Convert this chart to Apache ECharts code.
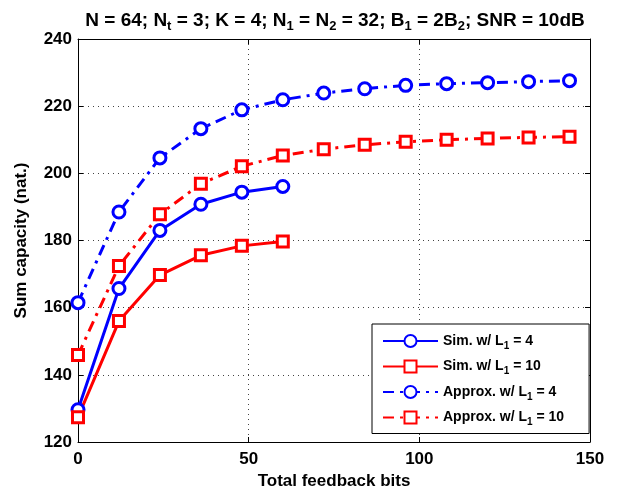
<!DOCTYPE html>
<html>
<head>
<meta charset="utf-8">
<script src="https://cdn.jsdelivr.net/npm/echarts@6/dist/echarts.min.js"></script>
<style>
  html, body { margin: 0; padding: 0; background: #fff; }
  #chart { width: 626px; height: 495px; }
</style>
</head>
<body>
<div id="chart"></div>
<script>
// feedback bits on the x axis
const bits = [0, 12, 24, 36, 48, 60, 72, 84, 96, 108, 120, 132, 144];
// simulated sum capacity, only up to 60 bits
const simL4 = [129.6, 165.7, 183.0, 190.8, 194.4, 196.1];
const simL10 = [127.4, 156.0, 169.7, 175.6, 178.4, 179.7];
// approximation curves
const approxL4 = [161.5, 188.5, 204.6, 213.3, 218.9, 221.9, 223.9, 225.2, 226.2, 226.7, 227.0, 227.3, 227.6];
const approxL10 = [145.9, 172.4, 187.8, 196.9, 202.1, 205.3, 207.2, 208.5, 209.4, 210.0, 210.4, 210.7, 210.9];
const xTicks = { min: 0, max: 150, step: 50 };
const yTicks = { min: 120, max: 240, step: 20 };

const pairs = (ys) => ys.map((v, i) => [bits[i], v]);

const font = "Liberation Sans";
const dashDot = [11, 6, 3, 6];

const myChart = echarts.init(document.getElementById("chart"));

const tickLabel = { color: "#000", fontFamily: font, fontWeight: "bold", fontSize: 17 };
const nameStyle = { color: "#000", fontFamily: font, fontWeight: "bold", fontSize: 17 };
const grid = {
  show: true,
  lineStyle: { color: "#444", type: [1, 4], width: 1 },
};
const frameLine = { show: true, onZero: false, lineStyle: { color: "#000", width: 1 } };
const frameTick = { show: true, inside: true, length: 5, lineStyle: { color: "#000" } };

const option = {
  backgroundColor: "#fff",
  animation: false,
  title: {
    text: "N = 64; N{s|t} = 3; K = 4; N{s|1} = N{s|2} = 32; B{s|1} = 2B{s|2}; SNR = 10dB",
    left: 330,
    textAlign: "center",
    top: 3,
    textStyle: {
      color: "#000",
      fontFamily: font,
      fontWeight: "bold",
      fontSize: 19,
      rich: {
        s: { fontFamily: font, fontWeight: "bold", fontSize: 13, padding: [12, 0, 0, 0], verticalAlign: "bottom" },
      },
    },
  },
  grid: { left: 78, right: 36, top: 39, bottom: 52 },
  legend: {
    orient: "vertical",
    left: 372,
    top: 324,
    padding: [10, 25, 6, 10],
    itemGap: 8.5,
    itemWidth: 55,
    itemHeight: 15,
    borderColor: "#000",
    borderWidth: 1,
    backgroundColor: "#fff",
    formatter: (name) => name.replace("L1", "L{s|1}"),
    textStyle: {
      color: "#000",
      fontFamily: font,
      fontWeight: "bold",
      fontSize: 14,
      rich: {
        s: { fontFamily: font, fontWeight: "bold", fontSize: 10, padding: [10, 0, 0, 0], verticalAlign: "bottom" },
      },
    },
  },
  xAxis: [
    {
      type: "value",
      min: xTicks.min,
      max: xTicks.max,
      interval: xTicks.step,
      name: "Total feedback bits",
      nameLocation: "middle",
      nameGap: 31,
      nameTextStyle: nameStyle,
      axisLine: frameLine,
      axisTick: frameTick,
      axisLabel: Object.assign({ margin: 9 }, tickLabel),
      splitLine: grid,
    },
    {
      type: "value",
      position: "top",
      min: xTicks.min,
      max: xTicks.max,
      interval: xTicks.step,
      axisLine: frameLine,
      axisTick: frameTick,
      axisLabel: { show: false },
      splitLine: { show: false },
    },
  ],
  yAxis: [
    {
      type: "value",
      min: yTicks.min,
      max: yTicks.max,
      interval: yTicks.step,
      name: "Sum capacity (nat.)",
      nameLocation: "middle",
      nameGap: 48,
      nameTextStyle: nameStyle,
      axisLine: frameLine,
      axisTick: frameTick,
      axisLabel: Object.assign({ margin: 6 }, tickLabel),
      splitLine: grid,
    },
    {
      type: "value",
      position: "right",
      min: yTicks.min,
      max: yTicks.max,
      interval: yTicks.step,
      axisLine: frameLine,
      axisTick: frameTick,
      axisLabel: { show: false },
      splitLine: { show: false },
    },
  ],
  series: [
    {
      name: "Sim. w/ L1 = 4",
      type: "line",
      data: pairs(simL4),
      symbol: "circle",
      symbolSize: 12,
      color: "#0000ff",
      lineStyle: { color: "#0000ff", width: 3 },
      itemStyle: { color: "#fff", borderColor: "#0000ff", borderWidth: 3 },
    },
    {
      name: "Sim. w/ L1 = 10",
      type: "line",
      data: pairs(simL10),
      symbol: "rect",
      symbolSize: 11,
      color: "#ff0000",
      lineStyle: { color: "#ff0000", width: 3 },
      itemStyle: { color: "#fff", borderColor: "#ff0000", borderWidth: 3 },
    },
    {
      name: "Approx. w/ L1 = 4",
      type: "line",
      data: pairs(approxL4),
      symbol: "circle",
      symbolSize: 12,
      color: "#0000ff",
      lineStyle: { color: "#0000ff", width: 3, type: dashDot },
      itemStyle: { color: "#fff", borderColor: "#0000ff", borderWidth: 3 },
    },
    {
      name: "Approx. w/ L1 = 10",
      type: "line",
      data: pairs(approxL10),
      symbol: "rect",
      symbolSize: 11,
      color: "#ff0000",
      lineStyle: { color: "#ff0000", width: 3, type: dashDot },
      itemStyle: { color: "#fff", borderColor: "#ff0000", borderWidth: 3 },
    },
  ],
};

option && myChart.setOption(option);
</script>
</body>
</html>
